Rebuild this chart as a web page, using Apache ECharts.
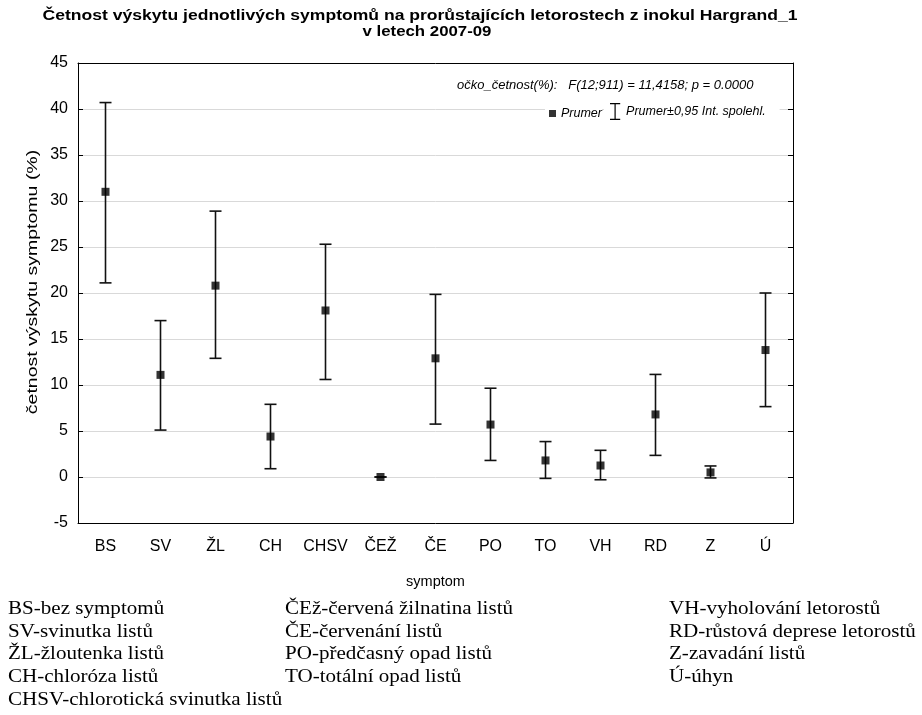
<!DOCTYPE html>
<html>
<head>
<meta charset="utf-8">
<script src="https://cdn.jsdelivr.net/npm/echarts@6/dist/echarts.min.js"></script>
<style>
  html, body { margin: 0; padding: 0; background: #fff; }
  #chart { width: 922px; height: 715px; }
</style>
</head>
<body>
<div id="chart"></div>
<script>
// Symptom codes on the x axis
const categories = ['BS', 'SV', 'ŽL', 'CH', 'CHSV', 'ČEŽ', 'ČE', 'PO', 'TO', 'VH', 'RD', 'Z', 'Ú'];
// Mean frequency (%)
const means = [31.0, 11.1, 20.8, 4.4, 18.1, 0.0, 12.9, 5.7, 1.8, 1.25, 6.8, 0.5, 13.8];
// 95 % confidence interval bounds
const lower = [21.1, 5.1, 12.9, 0.9, 10.6, 0.0, 5.75, 1.8, -0.15, -0.3, 2.35, -0.1, 7.65];
const upper = [40.7, 17.0, 28.9, 7.9, 25.3, 0.0, 19.85, 9.65, 3.85, 2.9, 11.15, 1.2, 20.0];
// Y axis range
const yMin = -5, yMax = 45, yStep = 5;
// Abbreviation key printed below the chart, column by column
const keyCol1 = ['BS-bez symptomů', 'SV-svinutka listů', 'ŽL-žloutenka listů', 'CH-chloróza listů', 'CHSV-chlorotická svinutka listů'];
const keyCol2 = ['ČEž-červená žilnatina listů', 'ČE-červenání listů', 'PO-předčasný opad listů', 'TO-totální opad listů'];
const keyCol3 = ['VH-vyholování letorostů', 'RD-růstová deprese letorostů', 'Z-zavadání listů', 'Ú-úhyn'];
const titleLines = ['Četnost výskytu jednotlivých symptomů na prorůstajících letorostech z inokul Hargrand_1', 'v letech 2007-09'];
const yName = 'četnost výskytu symptomu (%)';

const chart = echarts.init(document.getElementById('chart'), null, { renderer: 'canvas' });

const sans = 'Liberation Sans, Arial, sans-serif';
const serif = 'Liberation Serif, Times New Roman, serif';

const ciData = categories.map((c, i) => [i, lower[i], upper[i]]);
const meanData = categories.map((c, i) => [i, means[i]]);

// I-beam icon for the confidence-interval legend entry
const ibeam = 'path://M0,0H12V1.4H6.7V18.6H12V20H0V18.6H5.3V1.4H0Z';

// Key rows: plain serif text, slightly widened
function keyTexts(lines, x) {
  return lines.map((t, r) => ({
    type: 'text',
    x: x,
    y: 609.5 + r * 22.6,
    scaleX: 1.17,
    style: { text: t, font: '18px ' + serif, fill: '#000', verticalAlign: 'middle' }
  }));
}

const legendText = { fontFamily: sans, fontStyle: 'italic', fontSize: 12.5, color: '#000' };

const option = {
  backgroundColor: '#fff',
  animation: false,
  legend: [
    {
      left: 545,
      top: 102,
      itemWidth: 7,
      itemHeight: 7,
      itemGap: 4,
      backgroundColor: '#fff',
      padding: [5, 0, 5, 4],
      textStyle: legendText,
      data: [{ name: 'Prumer', icon: 'rect', itemStyle: { color: '#000' } }]
    },
    {
      left: 604,
      top: 103,
      itemWidth: 12,
      itemHeight: 17,
      itemGap: 4,
      backgroundColor: '#fff',
      padding: [0, 14, 1, 6],
      textStyle: legendText,
      data: [{ name: 'Prumer±0,95 Int. spolehl.', icon: ibeam, itemStyle: { color: '#000' } }]
    }
  ],
  graphic: [
    {
      type: 'text',
      x: 420,
      y: 16,
      scaleX: 1.17,
      style: { text: titleLines[0], font: 'bold 15px ' + sans, fill: '#000', align: 'center', verticalAlign: 'middle' }
    },
    {
      type: 'text',
      x: 427,
      y: 32,
      scaleX: 1.12,
      style: { text: titleLines[1], font: 'bold 15px ' + sans, fill: '#000', align: 'center', verticalAlign: 'middle' }
    },
    {
      type: 'text',
      x: 33,
      y: 282,
      rotation: Math.PI / 2,
      scaleX: 1.3,
      style: { text: yName, font: '15px ' + sans, fill: '#000', align: 'center', verticalAlign: 'middle' }
    },
    {
      type: 'text',
      left: 457,
      top: 79,
      style: {
        text: 'očko_četnost(%):   F(12;911) = 11,4158; p = 0.0000',
        font: 'italic 13px ' + sans,
        fill: '#000'
      }
    },
    ...keyTexts(keyCol1, 8),
    ...keyTexts(keyCol2, 285),
    ...keyTexts(keyCol3, 669)
  ],
  grid: { left: 78, right: 129, top: 63, bottom: 192, containLabel: false },
  xAxis: [
    {
      type: 'category',
      data: categories,
      boundaryGap: true,
      name: 'symptom',
      nameLocation: 'middle',
      nameGap: 51,
      nameTextStyle: { fontFamily: sans, fontSize: 14.5, color: '#000' },
      axisLine: { onZero: false, lineStyle: { color: '#000', width: 1 } },
      axisTick: { inside: true, alignWithLabel: true, length: 5, lineStyle: { color: '#000' } },
      axisLabel: { fontFamily: sans, fontSize: 16, color: '#000', margin: 16, interval: 0 },
      splitLine: { show: false }
    },
    {
      type: 'category',
      data: categories,
      position: 'top',
      boundaryGap: true,
      axisLine: { onZero: false, lineStyle: { color: '#000', width: 1 } },
      axisTick: { inside: true, alignWithLabel: true, length: 5, lineStyle: { color: '#000' } },
      axisLabel: { show: false },
      splitLine: { show: false }
    }
  ],
  yAxis: [
    {
      type: 'value',
      min: yMin,
      max: yMax,
      interval: yStep,
      axisLine: { show: true, onZero: false, lineStyle: { color: '#000', width: 1 } },
      axisTick: { show: true, inside: true, length: 5, lineStyle: { color: '#000' } },
      axisLabel: { fontFamily: sans, fontSize: 16, color: '#000', margin: 10 },
      splitLine: { show: true, lineStyle: { color: '#d9d9d9', width: 1 } }
    },
    {
      type: 'value',
      min: yMin,
      max: yMax,
      interval: yStep,
      position: 'right',
      axisLine: { show: true, onZero: false, lineStyle: { color: '#000', width: 1 } },
      axisTick: { show: true, inside: true, length: 5, lineStyle: { color: '#000' } },
      axisLabel: { show: false },
      splitLine: { show: false }
    }
  ],
  series: [
    {
      name: 'Prumer±0,95 Int. spolehl.',
      type: 'custom',
      xAxisIndex: 0,
      yAxisIndex: 0,
      itemStyle: { color: '#000' },
      data: ciData,
      renderItem: function (params, api) {
        const x = api.value(0);
        const lo = api.coord([x, api.value(1)]);
        const hi = api.coord([x, api.value(2)]);
        const half = 6;
        const style = { stroke: '#111', lineWidth: 1.6 };
        return {
          type: 'group',
          children: [
            { type: 'line', shape: { x1: hi[0], y1: hi[1], x2: lo[0], y2: lo[1] }, style },
            { type: 'line', shape: { x1: hi[0] - half, y1: hi[1], x2: hi[0] + half, y2: hi[1] }, style },
            { type: 'line', shape: { x1: lo[0] - half, y1: lo[1], x2: lo[0] + half, y2: lo[1] }, style }
          ]
        };
      },
      z: 2
    },
    {
      name: 'Prumer',
      type: 'scatter',
      xAxisIndex: 0,
      yAxisIndex: 0,
      symbol: 'rect',
      symbolSize: 8,
      itemStyle: { color: '#000' },
      data: meanData,
      z: 3
    }
  ]
};

chart.setOption(option);
</script>
</body>
</html>
